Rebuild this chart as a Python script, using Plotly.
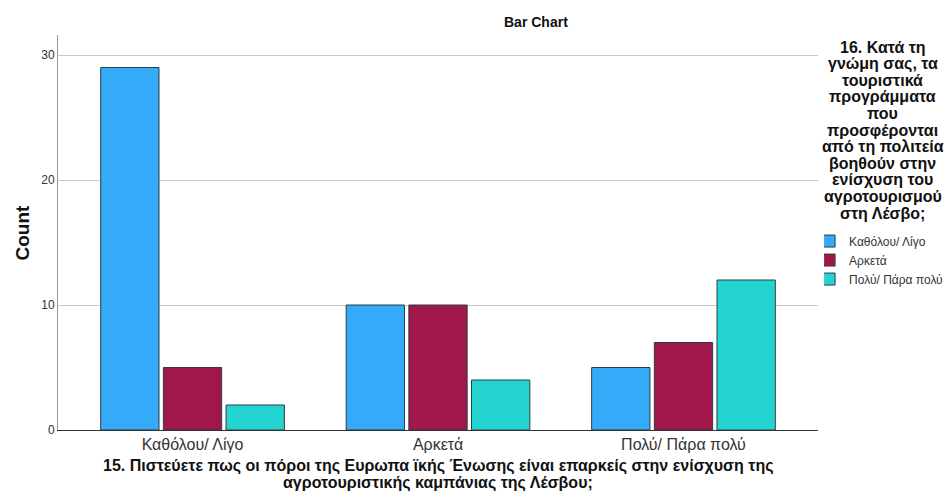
import plotly.graph_objects as go

categories = ["Καθόλου/ Λίγο", "Αρκετά", "Πολύ/ Πάρα πολύ"]
series_names = ["Καθόλου/ Λίγο", "Αρκετά", "Πολύ/ Πάρα πολύ"]
values_katholou = [29, 10, 5]
values_arketa = [5, 10, 7]
values_poly = [2, 4, 12]
colors = ["#35AAF9", "#A1174C", "#24D4D1"]
y_ticks = [0, 10, 20, 30]

legend_title_lines = ["16. Κατά τη", "γνώμη σας, τα", "τουριστικά", "προγράμματα", "που",
                      "προσφέρονται", "από τη πολιτεία", "βοηθούν στην", "ενίσχυση του",
                      "αγροτουρισμού", "στη Λέσβο;"]
x_title_lines = ["15. Πιστεύετε πως οι πόροι της Ευρωπα ϊκής Ένωσης είναι επαρκείς στην ενίσχυση της",
                 "αγροτουριστικής καμπάνιας της Λέσβου;"]

font_family = "Liberation Sans, Arial, sans-serif"

fig = go.Figure()
for name, vals, col in zip(series_names, [values_katholou, values_arketa, values_poly], colors):
    fig.add_trace(go.Bar(
        x=categories, y=vals, name=name,
        marker=dict(color=col, line=dict(color="#2c3d48", width=1)),
    ))

annotations = [
    dict(text="<b>Bar Chart</b>", xref="paper", yref="paper", x=0.629, y=1.0,
         yshift=13, xanchor="center", yanchor="middle", showarrow=False,
         font=dict(size=14, color="#111")),
    dict(text="<b>Count</b>", xref="paper", yref="paper", x=0.0, y=0.5,
         xshift=-36, xanchor="center", yanchor="middle", textangle=-90, showarrow=False,
         font=dict(size=19, color="#111")),
]
for i, line in enumerate(legend_title_lines):
    annotations.append(dict(
        text="<b>" + line + "</b>", xref="paper", yref="paper", x=1.0855, y=1.0,
        yshift=-12 - 16.6 * i, xanchor="center", yanchor="middle", showarrow=False,
        font=dict(size=16, color="#111")))
for i, line in enumerate(x_title_lines):
    annotations.append(dict(
        text="<b>" + line + "</b>", xref="paper", yref="paper", x=0.5, y=0.0,
        yshift=-36 - 17 * i, xanchor="center", yanchor="middle", showarrow=False,
        font=dict(size=16, color="#111")))

fig.update_layout(
    width=949, height=503,
    margin=dict(l=58, r=131, t=35, b=73, autoexpand=False),
    paper_bgcolor="white", plot_bgcolor="white",
    font=dict(family=font_family, color="#222"),
    barmode="group", bargap=0.234, bargroupgap=0.07,
    showlegend=True,
    legend=dict(
        x=1.008, xanchor="left", y=0.515, yanchor="top",
        font=dict(size=12, color="#333"),
        indentation=-15, itemwidth=30, tracegroupgap=0,
        bgcolor="rgba(0,0,0,0)",
    ),
    xaxis=dict(
        range=[-0.548, 2.548], automargin=False,
        showgrid=False, showline=True, linecolor="#333", linewidth=1,
        ticks="", tickfont=dict(size=16, color="#333"),
    ),
    yaxis=dict(
        range=[0, 31.6], tickvals=y_ticks, automargin=False,
        showgrid=True, gridcolor="#c8c8c8", gridwidth=1,
        showline=True, linecolor="#999", linewidth=1,
        zeroline=False, ticks="", tickfont=dict(size=12, color="#333"),
    ),
    annotations=annotations,
)
fig.write_html("out.html",
               config={"displayModeBar": False},
               post_script="document.body.style.margin='0px';document.body.style.overflow='hidden';")
